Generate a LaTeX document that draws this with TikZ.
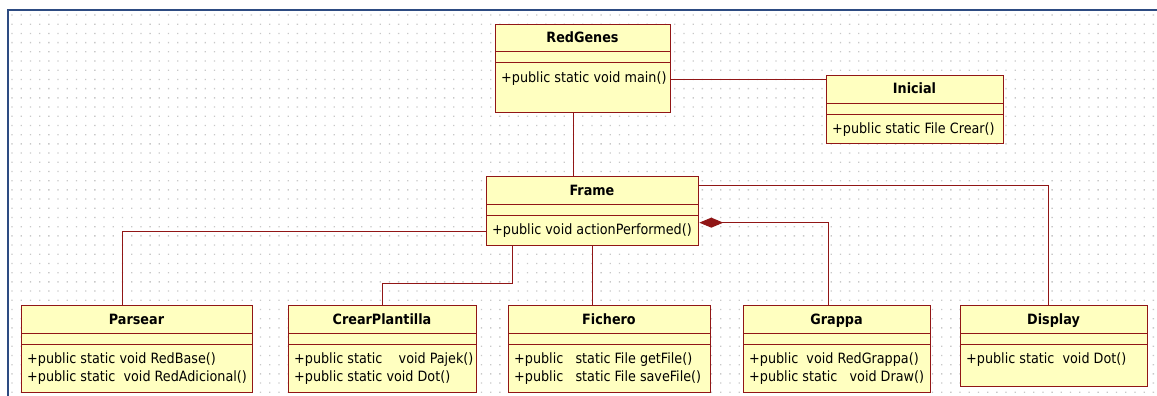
\documentclass[tikz,border=0pt]{standalone}
\usepackage{fontspec}
\setmainfont{DejaVu Sans Condensed}
\usetikzlibrary{arrows.meta,calc}
\definecolor{umlred}{RGB}{145,22,22}
\definecolor{umlfill}{RGB}{255,255,192}
\definecolor{griddot}{RGB}{200,200,200}
\definecolor{frameblue}{RGB}{45,75,130}

% UML class box: name, left, top, right, bottom, title, list of operations
\newcommand\umlclass[7]{%
  \node[classbox,minimum width=#4-#2,minimum height=#5-#3] (#1) at (#2,#3) {};
  \draw[sepline] (#2,#3+28) -- (#4,#3+28) (#2,#3+39) -- (#4,#3+39);
  \node[classtitle] (#1-title) at ({(#2+#4)/2},#3+19) {#6};
  \foreach \opline [count=\k] in {#7}
    \node[classop] (#1-op\k) at (#2+6,#3+58+18*\k-18) {\opline};
}

\begin{document}
\begin{tikzpicture}[x=1pt,y=-1pt,
  classbox/.style={draw=umlred,fill=umlfill,line width=1.3pt,anchor=north west,
                   inner sep=0pt,rectangle},
  sepline/.style={draw=umlred,line width=1pt},
  classtitle/.style={font=\bfseries\fontsize{14.2}{16}\selectfont,anchor=base,inner sep=0pt},
  classop/.style={font=\fontsize{14.2}{16}\selectfont,anchor=base west,inner sep=0pt},
  link/.style={draw=umlred,line width=1pt}
]
\useasboundingbox (0,0) rectangle (1157,396);

% canvas dot grid
\fill[griddot] \foreach \i in {0,...,124} {\foreach \j in {0,...,41}
  {(11.4+\i*9.204,14.4+\j*9.2) rectangle ++(1.3,1.3)}};

% window frame
\draw[frameblue,line width=2pt] (8,396) -- (8,10) -- (1157,10);

% classes
\umlclass{redgenes}{495}{24}{670}{112}{RedGenes}{{+public static void main()}}
\umlclass{inicial}{826}{75}{1003}{143}{Inicial}{{+public static File Crear()}}
\umlclass{frame}{486}{176}{698}{245}{Frame}{{+public void actionPerformed()}}
\umlclass{parsear}{21}{305}{252}{392}{Parsear}%
  {{+public static void RedBase()},{+public static\ \ void RedAdicional()}}
\umlclass{crear}{288}{305}{476}{392}{CrearPlantilla}%
  {{+public static\ \ \ \ void Pajek()},{+public static void Dot()}}
\umlclass{fichero}{508}{305}{710}{392}{Fichero}%
  {{+public\ \ \ static File getFile()},{+public\ \ \ static File saveFile()}}
\umlclass{grappa}{743}{305}{930}{392}{Grappa}%
  {{+public\ \ void RedGrappa()},{+public static\ \ \ void Draw()}}
\umlclass{display}{960}{305}{1147}{386}{Display}{{+public static\ \ void Dot()}}

% associations
\coordinate (rg-right) at ([yshift=-11pt]redgenes.east);
\draw[link] (rg-right) -- (rg-right -| inicial.west);
\coordinate (rg-down) at ([xshift=-9.5pt]redgenes.south);
\draw[link] (rg-down) -- (rg-down |- frame.north);
\coordinate (fr-disp) at ([yshift=25.5pt]frame.east);
\draw[link] (fr-disp) -| ([xshift=-5.5pt]display.north);
\coordinate (fr-pars) at ([yshift=-20.5pt]frame.west);
\draw[link] (fr-pars) -| ([xshift=-14.5pt]parsear.north);
\coordinate (fr-crear) at ([xshift=-80pt]frame.south);
\draw[link] (fr-crear) -- ++(0,37) -| (crear.north);
\draw[link] (frame.south) -- (frame.south |- fichero.north);
% composition
\coordinate (fr-grappa) at ([yshift=-11.5pt]frame.east);
\draw[link,{Diamond[length=24pt,width=10pt,fill=umlred]}-]
  (fr-grappa) -| ([xshift=-8.5pt]grappa.north);
\end{tikzpicture}
\end{document}
